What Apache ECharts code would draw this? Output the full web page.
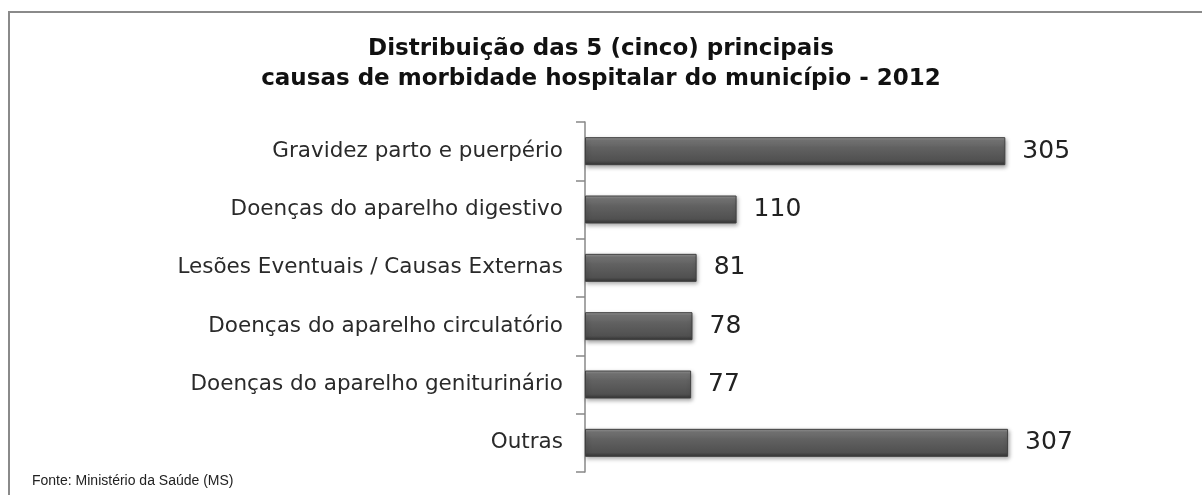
<!DOCTYPE html>
<html>
<head>
<meta charset="utf-8">
<script src="https://cdn.jsdelivr.net/npm/echarts@6/dist/echarts.min.js"></script>
<style>
html,body{margin:0;padding:0;background:#fff;}
#chart{width:1202px;height:495px;}
</style>
</head>
<body>
<div id="chart"></div>
<script>
const titleText = 'Distribuição das 5 (cinco) principais\ncausas de morbidade hospitalar do município - 2012';
const categories = [
  'Gravidez parto e puerpério',
  'Doenças do aparelho digestivo',
  'Lesões Eventuais / Causas Externas',
  'Doenças do aparelho circulatório',
  'Doenças do aparelho geniturinário',
  'Outras'
];
const values = [305, 110, 81, 78, 77, 307];
const sourceText = 'Fonte: Ministério da Saúde (MS)';

const chart = echarts.init(document.getElementById('chart'));
chart.setOption({
  backgroundColor: '#ffffff',
  animation: false,
  title: {
    text: titleText,
    left: 'center',
    top: 29,
    textStyle: {
      fontFamily: 'DejaVu Sans',
      fontWeight: 'bold',
      fontSize: 23,
      lineHeight: 30,
      color: '#111'
    }
  },
  graphic: [
    {
      type: 'rect',
      shape: { x: 9, y: 12, width: 1300, height: 600 },
      style: { fill: 'none', stroke: '#8a8a8a', lineWidth: 2 },
      silent: true
    },
    {
      type: 'text',
      left: 32,
      top: 474,
      style: {
        text: sourceText,
        font: '14px "Liberation Sans"',
        fill: '#222'
      }
    }
  ],
  grid: { left: 585, top: 122, height: 350, right: 176 },
  xAxis: {
    type: 'value',
    min: 0,
    max: 320,
    show: false
  },
  yAxis: {
    type: 'category',
    data: categories,
    inverse: true,
    axisLine: { show: true, lineStyle: { color: '#888', width: 1.5 } },
    axisTick: { show: true, length: 9, lineStyle: { color: '#888', width: 1.5 } },
    axisLabel: {
      margin: 22,
      fontFamily: 'DejaVu Sans',
      fontSize: 21.5,
      color: '#2a2a2a'
    }
  },
  series: [{
    type: 'bar',
    data: values,
    barWidth: 28,
    itemStyle: {
      color: new echarts.graphic.LinearGradient(0, 0, 0, 1, [
        { offset: 0, color: '#9a9a9a' },
        { offset: 0.12, color: '#767676' },
        { offset: 0.35, color: '#626262' },
        { offset: 0.85, color: '#505050' },
        { offset: 1, color: '#333333' }
      ]),
      borderColor: '#404040',
      borderWidth: 1,
      shadowColor: 'rgba(0,0,0,0.35)',
      shadowBlur: 4,
      shadowOffsetY: 2,
      shadowOffsetX: 1
    },
    label: {
      show: true,
      position: 'right',
      distance: 17,
      fontFamily: 'DejaVu Sans',
      fontSize: 25,
      color: '#222'
    }
  }]
});
</script>
</body>
</html>
